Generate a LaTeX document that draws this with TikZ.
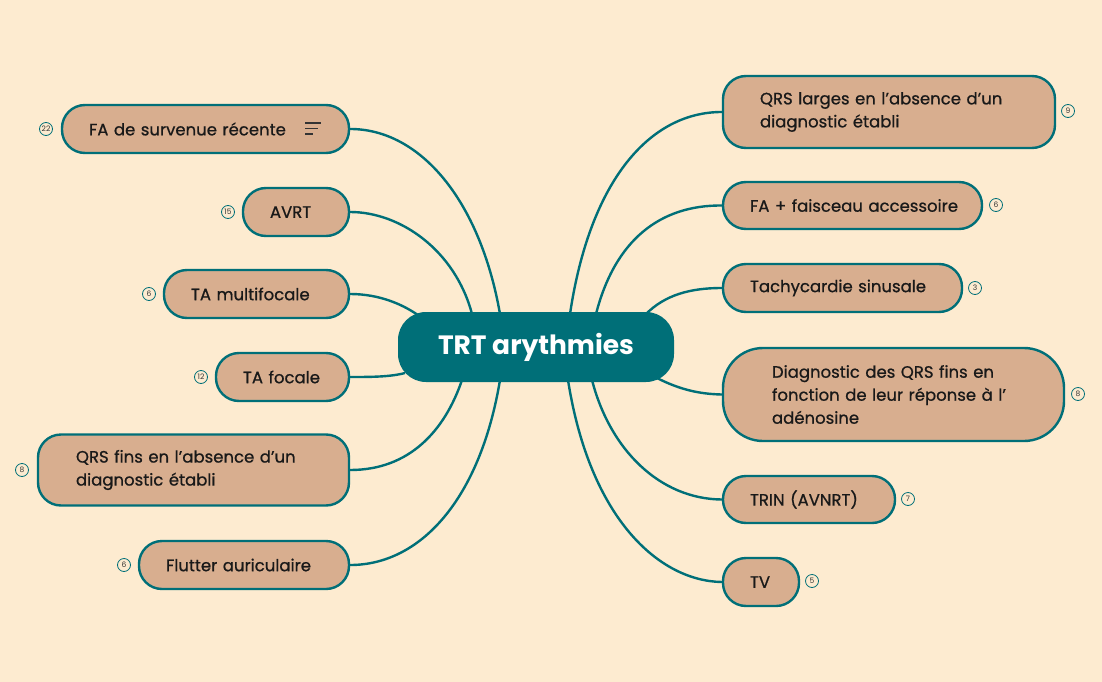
\documentclass[tikz,border=0pt]{standalone}
\usepackage{fontspec}
\setmainfont{Poppins}
\definecolor{bg}{HTML}{FDEBD0}
\definecolor{teal}{HTML}{006F78}
\definecolor{box}{HTML}{D8AE8F}
\newcommand{\apo}{\symbol{39}}
\begin{document}
\begin{tikzpicture}[x=1pt,y=-1pt,
  topic/.style={draw=teal,line width=2.4pt,fill=box,rounded corners=23pt,font=\fontsize{16.5}{23}\selectfont\addfontfeatures{FakeBold=0.8},text=black!90,inner ysep=0pt,align=left},
  badge/.style={circle,draw=teal,line width=0.8pt,inner sep=0pt,minimum size=13pt,font=\fontsize{7.5}{8}\selectfont,text=black!80},
  link/.style={draw=teal,line width=2.4pt}]
\fill[bg] (0,0) rectangle (1102,682);
\useasboundingbox (0,0) rectangle (1102,682);
% center
\node[fill=teal,rounded corners=28pt,minimum width=276pt,minimum height=70pt,text=white,font=\fontsize{26.5}{30}\selectfont\bfseries] (c) at (536,347) {TRT arythmies};
% left
\node[topic,inner xsep=27pt,text width=233pt,minimum height=48pt] (l1) at (205.5,129) {\mbox{FA de survenue récente}};
\node[topic,inner xsep=27pt,text width=52pt,minimum height=48pt] (l2) at (296,212) {\mbox{AVRT}};
\node[topic,inner xsep=27pt,text width=131pt,minimum height=48pt] (l3) at (256.5,294) {\mbox{TA multifocale}};
\node[topic,inner xsep=27pt,text width=79pt,minimum height=48pt] (l4) at (282.5,377) {\mbox{TA focale}};
\node[topic,inner xsep=38pt,text width=235pt,minimum height=71pt] (l5) at (193.5,470) {QRS fins en l\apo absence d\apo un\\diagnostic établi};
\node[topic,inner xsep=27pt,text width=156pt,minimum height=48pt] (l6) at (244,565) {\mbox{Flutter auriculaire}};
% right
\node[topic,inner xsep=37pt,text width=258pt,minimum height=72pt] (r1) at (889,112) {QRS larges en l\apo absence d\apo un\\diagnostic établi};
\node[topic,inner xsep=27pt,text width=205pt,minimum height=47pt] (r2) at (852.5,205.5) {\mbox{FA + faisceau accessoire}};
\node[topic,inner xsep=27pt,text width=185pt,minimum height=48pt] (r3) at (842.5,288) {\mbox{Tachycardie sinusale}};
\node[topic,inner xsep=49pt,text width=243pt,minimum height=93pt,rounded corners=40pt] (r4) at (893.5,394.5) {Diagnostic des QRS fins en\\fonction de leur réponse à l\apo\\adénosine};
\node[topic,inner xsep=27pt,text width=118pt,minimum height=47pt] (r5) at (809,499.5) {\mbox{TRIN (AVNRT)}};
\node[topic,inner xsep=27pt,text width=22pt,minimum height=48pt] (r6) at (761,582) {\mbox{TV}};
% note icon
\draw[black!80,line width=1.2pt] (305,123)--(321,123) (305,128.5)--(318,128.5) (305,134)--(313,134);
% badges
\node[badge] (b1) at (46,129) {22};
\node[badge] (b2) at (228,212) {15};
\node[badge] (b3) at (149,294) {6};
\node[badge] (b4) at (201,377) {12};
\node[badge] (b5) at (22,470) {8};
\node[badge] (b6) at (124,565) {6};
\node[badge] (b7) at (1068,111) {9};
\node[badge] (b8) at (996,205) {6};
\node[badge] (b9) at (975,288) {3};
\node[badge] (b10) at (1078,394) {8};
\node[badge] (b11) at (908,499) {7};
\node[badge] (b12) at (812,581) {5};
% connectors
\coordinate (s1) at (500,314); \coordinate (s2) at (472,314); \coordinate (s3) at (422,318);
\coordinate (s4) at (405,373); \coordinate (s5) at (462,380); \coordinate (s6) at (500,380);
\coordinate (t1) at (570,314); \coordinate (t2) at (596,314); \coordinate (t3) at (646,314);
\coordinate (t4) at (655,377); \coordinate (t5) at (592,380); \coordinate (t6) at (568,380);
\draw[link] (s1) .. controls (480,200) and (420,129) .. (l1.east);
\draw[link] (s2) .. controls (455,250) and (400,212) .. (l2.east);
\draw[link] (s3) .. controls (405,305) and (380,294) .. (l3.east);
\draw[link] (s4) .. controls (390,377) and (370,377) .. (l4.east);
\draw[link] (s5) .. controls (445,430) and (410,470) .. (l5.east);
\draw[link] (s6) .. controls (480,500) and (420,565) .. (l6.east);
\draw[link] (t1) .. controls (590,180) and (650,112) .. (r1.west);
\draw[link] (t2) .. controls (615,240) and (660,205) .. (r2.west);
\draw[link] (t3) .. controls (665,295) and (690,288) .. (r3.west);
\draw[link] (t4) .. controls (680,390) and (700,394) .. (r4.west);
\draw[link] (t5) .. controls (610,450) and (660,499) .. (r5.west);
\draw[link] (t6) .. controls (590,520) and (660,581) .. (r6.west);
\end{tikzpicture}
\end{document}
